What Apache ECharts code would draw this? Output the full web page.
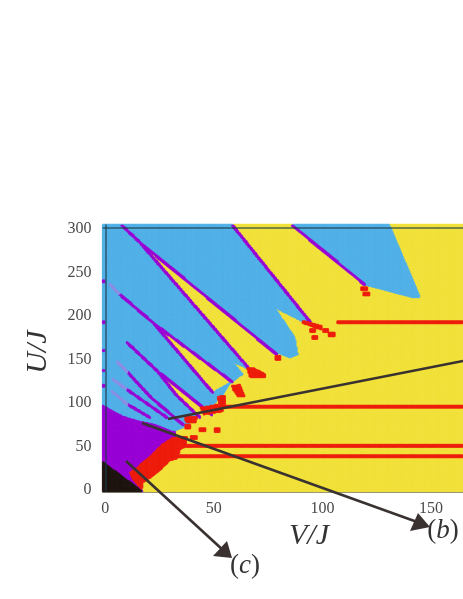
<!DOCTYPE html>
<html><head><meta charset="utf-8">
<style>html,body{margin:0;padding:0;background:#fff}#c{width:463px;height:599px}</style>
<script src="https://cdn.jsdelivr.net/npm/echarts@6/dist/echarts.min.js"></script>
</head><body><div id="c"></div>
<script>
// Phase-diagram axes (V/J across, U/J up)
const vCategories = []; for (let v = -1; v <= 164.5; v += 0.5) vCategories.push(v);
const uCategories = []; for (let u = -1; u <= 305; u += 1) uCategories.push(u);
const xTickLabels = [0, 50, 100, 150];
const yTickLabels = [0, 50, 100, 150, 200, 250, 300];
const phaseNames = ['yellow', 'blue', 'purple', 'red', 'black', 'faint'];
const phaseColors = ['#F2E23E', '#55B2E8', '#9A06D6', '#EE2010', '#231815', '#8F8FE6'];
const YELLOW = 0, BLUE = 1, PURPLE = 2, RED = 3, BLACK = 4, FAINT = 5;

// Phase regions, as [V, U] vertices
const blueRegions = [
  [[86.3,304],[86.3,310],[131,310],[131,304],[145,222],[142,221],[119.5,236.2]],
  [[-2,310],[58,310],[58.7,304],[94.2,193.8],[90.9,193.8],[78,209.9],[87.3,175.4],[88.6,155.9],[85,152.4],[79,158.2],
   [66.6,138.6],[61,129.4],[57.4,122.5],[53.7,108.7],[49.1,97.2],[45.4,88],[39.9,78.9],[35.7,72],[32.1,68.5],[-2,60]]
];
const yellowWedges = [
  [[16,284.6],[79,155.9],[66.6,138.6]],
  [[22.4,191.5],[58.3,124.7],[49.5,112.2]],
  [[24.2,136.3],[49.1,86.9],[43.6,83.4],[32.5,109.9]],
  [[58.3,147.8],[66.6,138.6],[64.7,129.4],[62.4,136.3]]
];
const purpleRegion = [[-2,98.4],[8.2,84.6],[16,78.9],[22.9,75.4],[30.7,67.4],[32.5,67.4],[32.5,61.6],[26.1,50.1],[19.6,35.2],[14.6,23.7],[11.4,20.2],[14.6,9.9],[17.3,-2],[-2,-2]];
const blackRegion = [[-2,34],[17,-1],[17,-2],[-2,-2]];
const redRegions = [
  [[11.4,20.2],[14.6,26],[21.5,40.9],[26.1,52.4],[31.1,60.5],[37.6,61.6],[37.1,50.1],[34.4,46.7],[33.4,36.3],[29.8,34],[27.5,28.3],[22.9,17.9],[17.3,8.7],[16.9,0.7],[12.7,12.2]],
  [[90.9,195],[99.6,189],[99.6,184],[90.9,192]],
  [[65.2,140.9],[67.9,140.9],[73.5,134],[73.9,129.4],[66.6,129.4]],
  [[58.3,120.2],[62,121.3],[64.3,107.6],[61,107.6],[58.8,115.6]],
  [[51.8,107.6],[55,108.7],[55.5,97.2],[52.3,97.2]],
  [[43.6,94.9],[53.7,99.5],[54.1,90.3],[45.4,86.9]],
  [[36.7,84.6],[42.2,84.6],[41.7,77.7],[37.1,77.7]]
];
// Boundary lines between phases, as [V, U] polylines
const purpleLines = [
  [[7.7,304.1],[16,284.6],[79,155.9]],
  [[16,284.6],[66.6,138.6]],
  [[58.7,304],[94.2,193.8]],
  [[86.3,304],[119.5,236.2]],
  [[6.8,224.8],[22.4,191.5],[58.3,124.7]],
  [[22.4,191.5],[49.5,112.2]],
  [[10,169.7],[24.2,136.3],[49.1,86.9]],
  [[24.2,136.3],[32.5,109.9],[43.6,83.4]],
  [[10.4,135.2],[20.6,107.6],[35.7,75.4]],
  [[10,115.6],[28.4,83.4]],
  [[10.4,98.4],[20.6,83.4]]
];
const faintLines = [
  [[2.2,236.2],[6.8,224.8]],
  [[5.4,147.8],[10.4,135.2]],
  [[3.6,127.1],[10,115.6]],
  [[3.1,113.3],[10.4,98.4]]
];
const edgeMarksU = [239.8, 192.6, 160.5, 137.5, 120.2];
// Horizontal red lines: [U, first V]
const redLines = [[193,106.6],[96,52],[51,37],[39,33]];
// Isolated red cells: [V, U]
const redBlocks = [[119.3,231.7],[120.2,225.6],[95.4,183.4],[96.5,175.4],[101.4,183.4],[104.3,179.2],[79.4,152],[44.7,69.7],[51.4,69.1],[40.8,60.5],[38,73.1]];

// Aspect of the plot: one V step is about 2.5 U steps on screen
const ASPECT = 2.5, LINE_HALF = 1.0, BLOCK_V = 1.3, BLOCK_U = 2.2, RED_LINE_HALF = 1.9;
function inPoly(v, u, p) {
  let c = false;
  for (let i = 0, j = p.length - 1; i < p.length; j = i++) {
    if ((p[i][1] > u) !== (p[j][1] > u) && v < (p[j][0] - p[i][0]) * (u - p[i][1]) / (p[j][1] - p[i][1]) + p[i][0]) c = !c;
  }
  return c;
}
function nearLine(v, u, line, w) {
  for (let i = 0; i < line.length - 1; i++) {
    const ax = line[i][0] * ASPECT, ay = line[i][1], bx = line[i + 1][0] * ASPECT, by = line[i + 1][1];
    const px = v * ASPECT, py = u, dx = bx - ax, dy = by - ay;
    let t = ((px - ax) * dx + (py - ay) * dy) / (dx * dx + dy * dy);
    t = Math.max(0, Math.min(1, t));
    const ex = px - ax - t * dx, ey = py - ay - t * dy;
    if (ex * ex + ey * ey < w * w) return true;
  }
  return false;
}
function phaseAt(v, u) {
  let p = YELLOW;
  if (blueRegions.some(r => inPoly(v, u, r))) p = BLUE;
  if (yellowWedges.some(r => inPoly(v, u, r))) p = YELLOW;
  if (faintLines.some(l => nearLine(v, u, l, LINE_HALF))) p = FAINT;
  if (purpleLines.some(l => nearLine(v, u, l, LINE_HALF))) p = PURPLE;
  if (v < 0 && edgeMarksU.some(m => Math.abs(u - m) < 1.5)) p = PURPLE;
  if (inPoly(v, u, purpleRegion)) p = PURPLE;
  if (redRegions.some(r => inPoly(v, u, r))) p = RED;
  if (redLines.some(l => v >= l[1] && Math.abs(u - l[0]) < RED_LINE_HALF)) p = RED;
  if (redBlocks.some(b => Math.abs(v - b[0]) < BLOCK_V && Math.abs(u - b[1]) < BLOCK_U)) p = RED;
  if (inPoly(v, u, blackRegion)) p = BLACK;
  return p;
}
const cellsByPhase = phaseNames.map(() => []);
vCategories.forEach((v, i) => uCategories.forEach((u, j) => cellsByPhase[phaseAt(v, u)].push([i, j, 1])));

const chart = echarts.init(document.getElementById('c'), null, { renderer: 'canvas' });
const serif = '"Liberation Serif", serif';
const ink = '#3a3230';
const labelOf = (ticks) => (i, val) => ticks.includes(Number(val));
const mathText = (text, size) => ({
  text: '{u|(}{i|' + text + '}{u|)}',
  rich: { u: { fontFamily: serif, fontSize: size, fill: '#333' }, i: { fontFamily: serif, fontStyle: 'italic', fontSize: size, fill: '#333' } },
  align: 'center', verticalAlign: 'middle'
});
const series = phaseNames.map((name, k) => ({
  type: 'heatmap', name, data: cellsByPhase[k], progressive: 0, silent: true, emphasis: { disabled: true },
  itemStyle: { color: phaseColors[k], borderColor: phaseColors[k], borderWidth: 0.5 }
}));
series[series.length - 1].markLine = { silent: true, symbol: 'none', label: { show: false }, animation: false,
  lineStyle: { type: 'solid', width: 1.5, color: 'rgba(30,60,70,.75)' },
  data: [{ xAxis: '0' }, { yAxis: '302' }] };
chart.setOption({
  animation: false,
  backgroundColor: '#fff',
  grid: { left: 102.6, top: 224.4, width: 360.4, height: 267.1, show: true, borderWidth: 0, backgroundColor: phaseColors[YELLOW] },
  xAxis: { type: 'category', data: vCategories.map(String), axisTick: { show: false },
    axisLine: { show: true, lineStyle: { color: 'rgba(60,60,40,.8)', width: 1.5 } },
    axisLabel: { interval: labelOf(xTickLabels), color: '#4a4a4a', fontFamily: serif, fontSize: 16, margin: 9 } },
  yAxis: { type: 'category', data: uCategories.map(String), axisTick: { show: false }, axisLine: { show: false },
    axisLabel: { interval: labelOf(yTickLabels), color: '#4a4a4a', fontFamily: serif, fontSize: 16, margin: 11 } },
  series,
  graphic: { elements: [
    { type: 'line', z: 100, shape: { x1: 168, y1: 419, x2: 463, y2: 361 }, style: { stroke: ink, lineWidth: 2.6 } },
    { type: 'line', z: 100, shape: { x1: 142, y1: 423, x2: 420, y2: 523 }, style: { stroke: ink, lineWidth: 2.6 } },
    { type: 'polygon', z: 100, shape: { points: [[430, 527], [418, 513], [410, 531]] }, style: { fill: ink } },
    { type: 'line', z: 100, shape: { x1: 126, y1: 461, x2: 224, y2: 551 }, style: { stroke: ink, lineWidth: 2.6 } },
    { type: 'polygon', z: 100, shape: { points: [[232, 558], [227, 541], [213, 556]] }, style: { fill: ink } },
    { type: 'text', z: 100, x: 309, y: 536, style: { text: 'V/J', font: 'italic 30px ' + serif, fill: '#333', align: 'center', verticalAlign: 'middle' } },
    { type: 'text', z: 100, x: 38, y: 352, rotation: Math.PI / 2, style: { text: 'U/J', font: 'italic 30px ' + serif, fill: '#333', align: 'center', verticalAlign: 'middle' } },
    { type: 'text', z: 100, x: 443, y: 531, style: mathText('b', 27) },
    { type: 'text', z: 100, x: 245, y: 566, style: mathText('c', 27) }
  ] }
});
</script></body></html>
